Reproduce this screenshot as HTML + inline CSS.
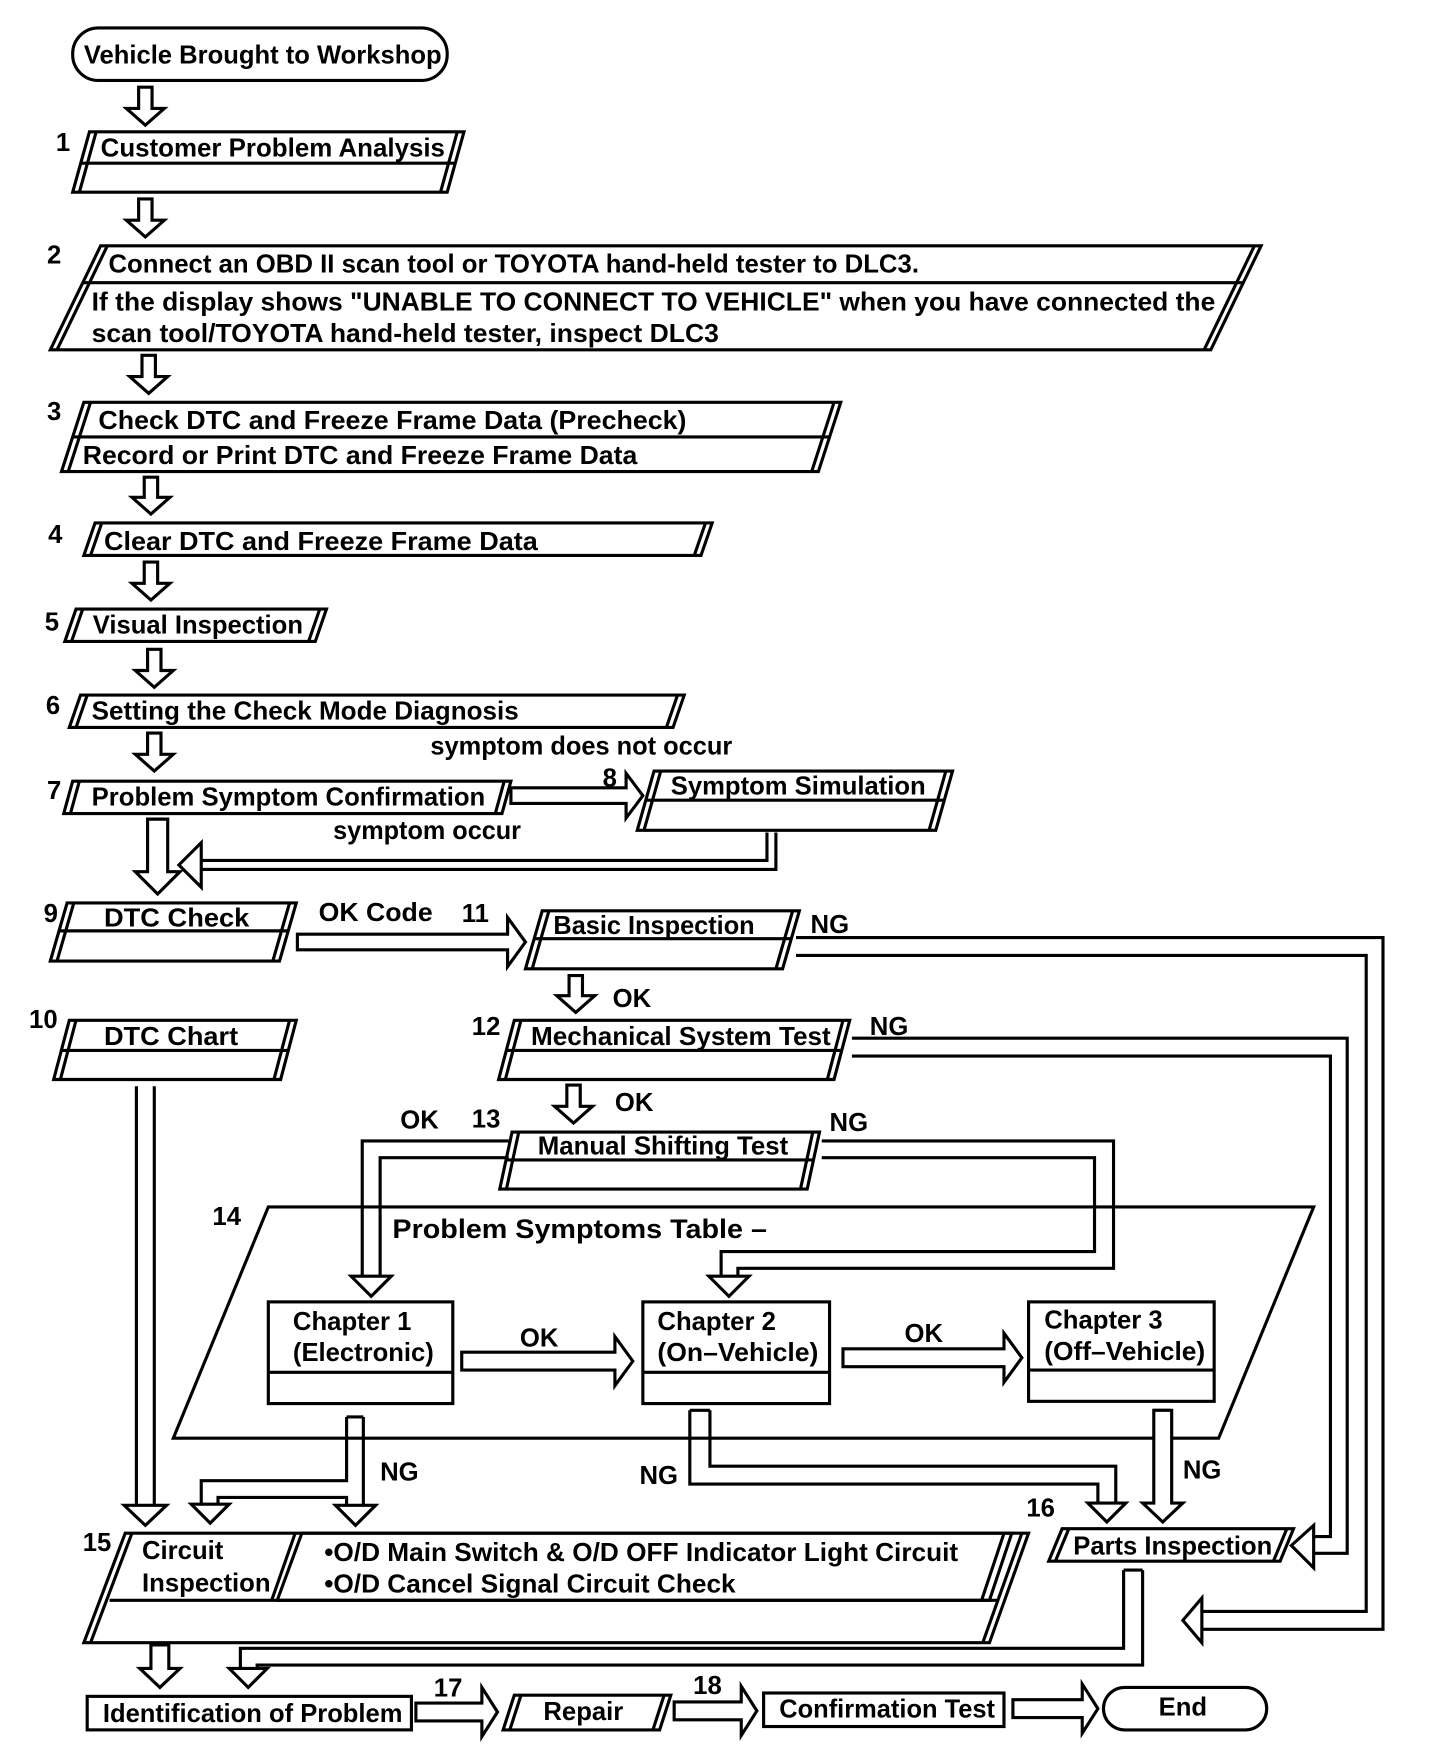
<!DOCTYPE html>
<html><head><meta charset="utf-8"><style>
html,body{margin:0;padding:0;background:#fff;}
svg{display:block;}
text{font-family:"Liberation Sans",Arial,sans-serif;font-size:23px;fill:#000;font-weight:bold;}
</style></head><body>
<svg id="s" width="1440" height="1750" viewBox="0 0 1288 1566" preserveAspectRatio="none" xmlns="http://www.w3.org/2000/svg">
<g id="g" fill="none" stroke="#000" stroke-width="2.8" stroke-linejoin="miter"></g>
<g>
<text x="75" y="57" textLength="320" lengthAdjust="spacingAndGlyphs">Vehicle Brought to Workshop</text>
<text x="50" y="135">1</text>
<text x="90" y="140" textLength="308" lengthAdjust="spacingAndGlyphs">Customer Problem Analysis</text>
<text x="42" y="236">2</text>
<text x="97" y="244" textLength="725" lengthAdjust="spacingAndGlyphs">Connect an OBD II scan tool or TOYOTA hand-held tester to DLC3.</text>
<text x="82" y="278" textLength="1005" lengthAdjust="spacingAndGlyphs">If the display shows "UNABLE TO CONNECT TO VEHICLE" when you have connected the</text>
<text x="82" y="306" textLength="561" lengthAdjust="spacingAndGlyphs">scan tool/TOYOTA hand-held tester, inspect DLC3</text>
<text x="42" y="376">3</text>
<text x="88" y="384" textLength="526" lengthAdjust="spacingAndGlyphs">Check DTC and Freeze Frame Data (Precheck)</text>
<text x="74" y="415" textLength="496" lengthAdjust="spacingAndGlyphs">Record or Print DTC and Freeze Frame Data</text>
<text x="43" y="486">4</text>
<text x="93" y="492" textLength="388" lengthAdjust="spacingAndGlyphs">Clear DTC and Freeze Frame Data</text>
<text x="40" y="564">5</text>
<text x="83" y="567" textLength="188" lengthAdjust="spacingAndGlyphs">Visual Inspection</text>
<text x="41" y="639">6</text>
<text x="82" y="644" textLength="382" lengthAdjust="spacingAndGlyphs">Setting the Check Mode Diagnosis</text>
<text x="385" y="675" textLength="270" lengthAdjust="spacingAndGlyphs">symptom does not occur</text>
<text x="42" y="715">7</text>
<text x="82" y="721" textLength="352" lengthAdjust="spacingAndGlyphs">Problem Symptom Confirmation</text>
<text x="539" y="704">8</text>
<text x="600" y="711" textLength="228" lengthAdjust="spacingAndGlyphs">Symptom Simulation</text>
<text x="298" y="751" textLength="168" lengthAdjust="spacingAndGlyphs">symptom occur</text>
<text x="39" y="825">9</text>
<text x="93" y="829" textLength="130" lengthAdjust="spacingAndGlyphs">DTC Check</text>
<text x="285" y="824" textLength="102" lengthAdjust="spacingAndGlyphs">OK Code</text>
<text x="413" y="825">11</text>
<text x="495" y="836" textLength="180" lengthAdjust="spacingAndGlyphs">Basic Inspection</text>
<text x="725" y="835">NG</text>
<text x="548" y="901">OK</text>
<text x="26" y="920">10</text>
<text x="93" y="935" textLength="120" lengthAdjust="spacingAndGlyphs">DTC Chart</text>
<text x="422" y="926">12</text>
<text x="475" y="935" textLength="268" lengthAdjust="spacingAndGlyphs">Mechanical System Test</text>
<text x="778" y="926">NG</text>
<text x="550" y="994">OK</text>
<text x="358" y="1010">OK</text>
<text x="422" y="1009">13</text>
<text x="481" y="1033" textLength="224" lengthAdjust="spacingAndGlyphs">Manual Shifting Test</text>
<text x="742" y="1012">NG</text>
<text x="190" y="1096">14</text>
<text x="351" y="1108" style="font-size:24px" textLength="335" lengthAdjust="spacingAndGlyphs">Problem Symptoms Table –</text>
<text x="262" y="1190">Chapter 1</text>
<text x="262" y="1218" textLength="126" lengthAdjust="spacingAndGlyphs">(Electronic)</text>
<text x="588" y="1190">Chapter 2</text>
<text x="588" y="1218" textLength="144" lengthAdjust="spacingAndGlyphs">(On–Vehicle)</text>
<text x="934" y="1189">Chapter 3</text>
<text x="934" y="1217" textLength="144" lengthAdjust="spacingAndGlyphs">(Off–Vehicle)</text>
<text x="465" y="1205">OK</text>
<text x="809" y="1201">OK</text>
<text x="340" y="1325">NG</text>
<text x="572" y="1328">NG</text>
<text x="1058" y="1323">NG</text>
<text x="918" y="1357">16</text>
<text x="960" y="1391" textLength="178" lengthAdjust="spacingAndGlyphs">Parts Inspection</text>
<text x="74" y="1388">15</text>
<text x="127" y="1395">Circuit</text>
<text x="127" y="1424" textLength="115" lengthAdjust="spacingAndGlyphs">Inspection</text>
<text x="290" y="1397" textLength="567" lengthAdjust="spacingAndGlyphs">•O/D Main Switch &amp; O/D OFF Indicator Light Circuit</text>
<text x="290" y="1425" textLength="368" lengthAdjust="spacingAndGlyphs">•O/D Cancel Signal Circuit Check</text>
<text x="92" y="1541" textLength="268" lengthAdjust="spacingAndGlyphs">Identification of Problem</text>
<text x="388" y="1518">17</text>
<text x="486" y="1539">Repair</text>
<text x="620" y="1516">18</text>
<text x="697" y="1537" textLength="193" lengthAdjust="spacingAndGlyphs">Confirmation Test</text>
<text x="1058" y="1535" text-anchor="middle">End</text>
</g>
</svg>
<script>
var g=document.getElementById('g'),NS='http://www.w3.org/2000/svg';
function el(t,a){var e=document.createElementNS(NS,t);for(var k in a)e.setAttribute(k,a[k]);g.appendChild(e);return e;}
function pl(pts){el('polyline',{points:pts});}
function poly(pts){el('polygon',{points:pts,fill:'#fff'});}
function para(tl,tr,yt,bl,yb,divs,dbl){
 var s=tl-bl,br=tr-s;
 poly(tl+','+yt+' '+tr+','+yt+' '+br+','+yb+' '+bl+','+yb);
 if(dbl!==false){var o=6;
 pl((tl+o)+','+yt+' '+(bl+o)+','+yb);
 pl((tr-o)+','+yt+' '+(br-o)+','+yb);}
 (divs||[]).forEach(function(y){var f=(y-yt)/(yb-yt);
  pl((tl-s*f)+','+y+' '+(tr-s*f)+','+y);});
}
function dA(cx,y1,y2,sw,hw,hh){sw=sw||6;hw=hw||17;hh=hh||15;
 poly((cx-sw)+','+y1+' '+(cx-sw)+','+(y2-hh)+' '+(cx-hw)+','+(y2-hh)+' '+cx+','+y2+' '+(cx+hw)+','+(y2-hh)+' '+(cx+sw)+','+(y2-hh)+' '+(cx+sw)+','+y1);}
function rA(x1,x2,cy,sw,hw,hh){sw=sw||7;hw=hw||20;hh=hh||14;
 poly(x1+','+(cy-sw)+' '+(x2-hh)+','+(cy-sw)+' '+(x2-hh)+','+(cy-hw)+' '+x2+','+cy+' '+(x2-hh)+','+(cy+hw)+' '+(x2-hh)+','+(cy+sw)+' '+x1+','+(cy+sw));}
function head(cx,y,hw,hh){poly((cx-hw)+','+(y-hh)+' '+cx+','+y+' '+(cx+hw)+','+(y-hh));}
el('rect',{x:65,y:25,width:335,height:47,rx:23,fill:'#fff'});
dA(130,78,112);
para(80,415,118,65,172,[146]);
dA(130,178,212);
para(90,1128,220,45,313,[253]);
dA(133,318,352);
para(75,752,360,55,422,[391]);
dA(135,427,460);
para(85,637,468,75,497);
dA(135,503,537);
para(68,292,545,58,574);
dA(138,581,615);
para(72,612,622,62,651);
dA(138,656,690);
para(65,457,699,57,728);
rA(457,575,712,7,20,15);
para(585,852,690,570,743,[716]);
pl('686,745 686,770 180,770');pl('694,745 694,778 180,778');
poly('180,762 180,754 160,774 180,794 180,786');
dA(141,733,800,9,20,20);
para(60,265,808,45,860,[833]);
rA(266,470,843,7,22,16);
para(485,715,815,470,867,[840]);
pl('712,839 1237,839 1237,1458 1075,1458');pl('712,855 1222,855 1222,1442 1075,1442');
poly('1075,1442 1075,1430 1058,1450 1075,1470 1075,1458');
dA(515,873,906);
para(62,265,913,48,966,[940]);
para(460,760,913,446,966,[940]);
pl('762,929 1205,929 1205,1390 1175,1390');pl('762,945 1190,945 1190,1375 1175,1375');
poly('1175,1375 1175,1365 1155,1383 1175,1403 1175,1390');
dA(513,971,1005);
para(458,733,1013,447,1064,[1038]);
pl('455,1021 324,1021 324,1142');pl('455,1036 340,1036 340,1142');
head(332,1160,18,18);
pl('735,1021 996,1021 996,1135 660,1135 660,1142');pl('735,1036 979,1036 979,1120 645,1120 645,1142');
head(652,1160,18,18);
el('polygon',{points:'240,1080 1175,1080 1090,1287 155,1287',fill:'none'});
el('rect',{x:240,y:1165,width:165,height:91,fill:'#fff'});pl('240,1228 405,1228');
el('rect',{x:575,y:1165,width:167,height:91,fill:'#fff'});pl('575,1228 742,1228');
el('rect',{x:920,y:1165,width:166,height:89,fill:'#fff'});pl('920,1226 1086,1226');
rA(413,566,1218,8,22,16);
rA(754,914,1215,8,22,16);
pl('122,972 122,1347');pl('138,972 138,1347');head(130,1365,19,18);
pl('310,1268 325,1268');pl('325,1268 325,1347');pl('310,1268 310,1325 180,1325 180,1347');
pl('310,1347 310,1340 195,1340 195,1347');
head(318,1365,18,18);head(188,1363,17,17);
pl('617,1262 635,1262');pl('617,1262 617,1328 982,1328 982,1345');pl('635,1262 635,1312 998,1312 998,1345');
head(990,1362,17,17);
pl('1032,1262 1047,1262');dA(1040,1262,1362,8,18,17);
para(950,1157,1368,938,1397);
el('polygon',{points:'112,1372 920,1372 885,1470 75,1470',fill:'#fff'});
pl('118,1372 81,1470');
pl('914,1372 879,1470');
pl('98,1432 892,1432');
el('polygon',{points:'270,1372 905,1372 885,1432 248,1432',fill:'none'});
pl('898,1372 878,1432');pl('264,1372 243,1432');
pl('1005,1405 1022,1405');pl('1022,1405 1022,1490 230,1490 230,1492');pl('1005,1405 1005,1475 215,1475 215,1492');
head(222,1510,17,17);
dA(143,1472,1510,8,18,17);
el('rect',{x:78,y:1518,width:290,height:30,fill:'#fff'});
rA(372,445,1532,8,22,14);
para(460,600,1517,450,1548);
rA(603,677,1531,8,22,14);
el('rect',{x:683,y:1515,width:215,height:30,fill:'#fff'});
rA(906,982,1529,8,22,14);
el('rect',{x:987,y:1510,width:146,height:38,rx:19,fill:'#fff'});
</script>
</body></html>
